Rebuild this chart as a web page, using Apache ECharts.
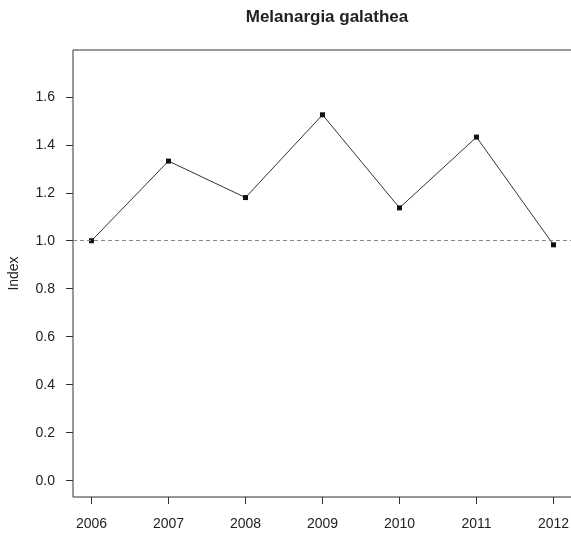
<!DOCTYPE html>
<html>
<head>
<meta charset="utf-8">
<script src="https://cdn.jsdelivr.net/npm/echarts@6/dist/echarts.min.js"></script>
<style>
  html, body { margin: 0; padding: 0; background: #fff; }
  #main { width: 571px; height: 533px; }
</style>
</head>
<body>
<div id="main"></div>
<script>
// data
var years = [2006, 2007, 2008, 2009, 2010, 2011, 2012];
var indexValues = [1.0, 1.332, 1.18, 1.525, 1.137, 1.432, 0.983];
var yTicks = [0, 0.2, 0.4, 0.6, 0.8, 1.0, 1.2, 1.4, 1.6];
var baseline = 1.0;

var myChart = echarts.init(document.getElementById('main'));
var font = '"Liberation Sans", Arial, Helvetica, sans-serif';

var option = {
  backgroundColor: '#fff',
  animation: false,
  title: {
    text: 'Melanargia galathea',
    left: 322,
    top: 4,
    textAlign: 'center',
    textStyle: { fontFamily: font, fontSize: 17, fontWeight: 'bold', color: '#222' }
  },
  grid: {
    left: 73, top: 50, right: -1, bottom: 36,
    outerBoundsMode: 'none',
    containLabel: false,
    show: true, borderColor: '#333', borderWidth: 1
  },
  xAxis: {
    type: 'value',
    min: 2005.76,
    max: 2012.24,
    splitLine: { show: false },
    axisLine: { show: false, onZero: false },
    axisTick: {
      show: true, length: 7, inside: false,
      customValues: years,
      lineStyle: { color: '#333' }
    },
    axisLabel: {
      customValues: years,
      margin: 20,
      fontFamily: font, fontSize: 14, color: '#222',
      formatter: function (v) { return String(v); }
    }
  },
  yAxis: {
    type: 'value',
    min: -0.068,
    max: 1.795,
    name: 'Index',
    nameLocation: 'middle',
    nameGap: 52,
    nameRotate: 90,
    nameTextStyle: { fontFamily: font, fontSize: 14, color: '#222' },
    splitLine: { show: false },
    axisLine: { show: false, onZero: false },
    axisTick: {
      show: true, length: 7,
      customValues: yTicks,
      lineStyle: { color: '#333' }
    },
    axisLabel: {
      customValues: yTicks,
      margin: 18,
      fontFamily: font, fontSize: 14, color: '#222',
      formatter: function (v) { return v.toFixed(1); }
    }
  },
  series: [{
    type: 'line',
    data: years.map(function (y, i) { return [y, indexValues[i]]; }),
    symbol: 'rect',
    symbolSize: 5,
    showSymbol: true,
    itemStyle: { color: '#111' },
    lineStyle: { color: '#333', width: 1 },
    markLine: {
      silent: true,
      symbol: 'none',
      label: { show: false },
      lineStyle: { color: '#888', type: [4, 3], width: 1 },
      data: [{ yAxis: baseline }]
    }
  }]
};

myChart.setOption(option);
window.onresize = myChart.resize;
</script>
</body>
</html>
